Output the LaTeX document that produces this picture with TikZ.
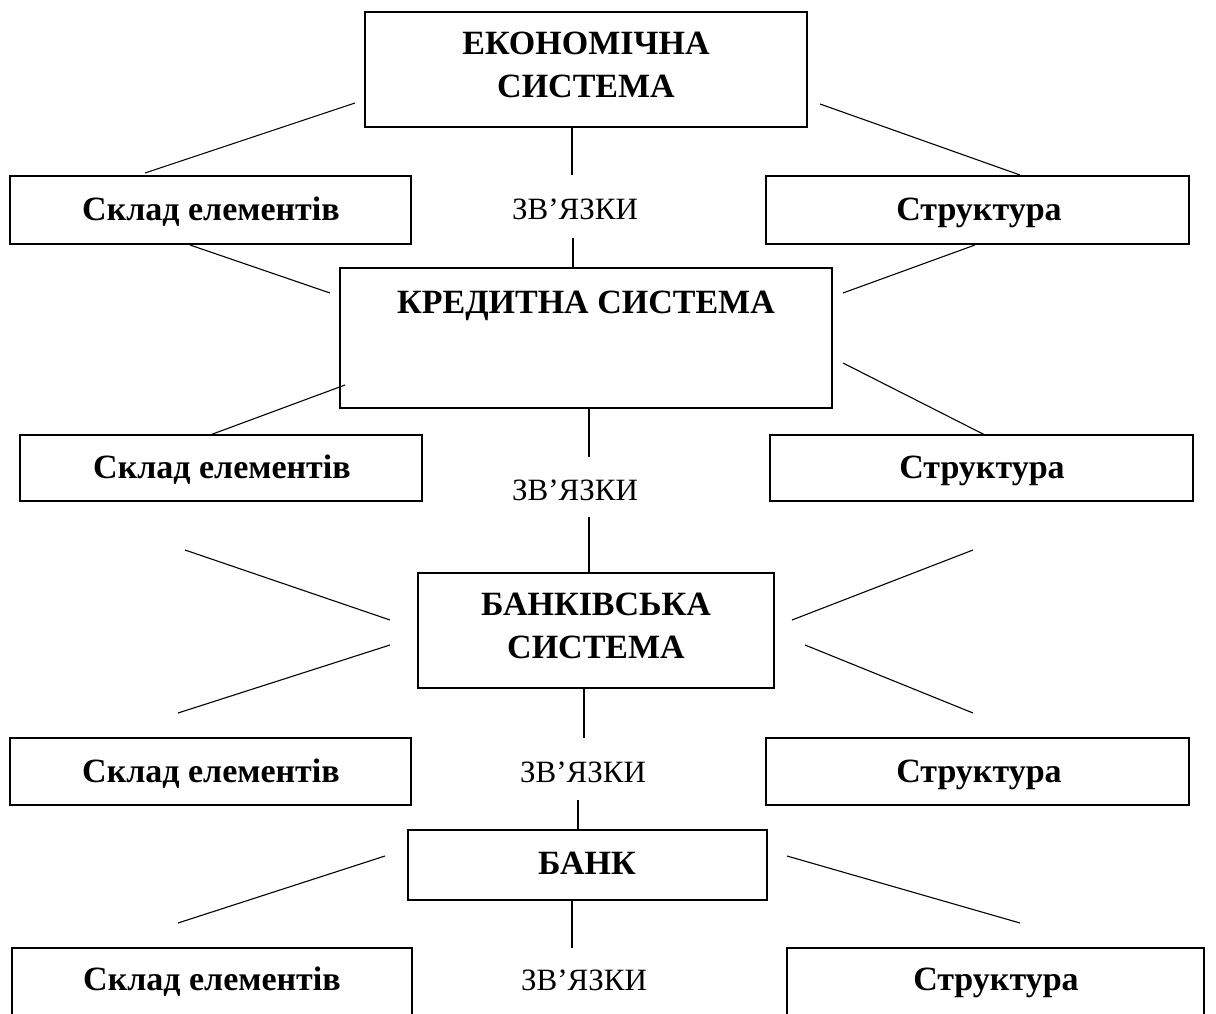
\documentclass[tikz,border=0pt]{standalone}
\usepackage{fontspec}
\setmainfont{Liberation Serif}
\begin{document}
\begin{tikzpicture}[x=1pt,y=-1pt,
  box/.style={draw, line width=1.6pt, inner sep=0pt},
  txt/.style={inner sep=0pt, anchor=base, font=\bfseries\fontsize{34}{43}\selectfont},
  mtxt/.style={inner sep=0pt, align=center, font=\bfseries\fontsize{34}{43}\selectfont},
  zv/.style={inner sep=0pt, anchor=base, font=\fontsize{31}{34}\selectfont},
  link/.style={line width=1.1pt},
  vlink/.style={line width=1.2pt}]
\useasboundingbox (0,0) rectangle (1216,1014);
\clip (0,0) rectangle (1216,1014);
\fill[white] (0,0) rectangle (1216,1014);

% level 1
\node[box, minimum width=442, minimum height=115] (eco) at (586,69.5) {};
\node[mtxt] (ecotxt) at (586,65.3) {ЕКОНОМІЧНА\\СИСТЕМА};
\node[box, minimum width=401, minimum height=68] (sk1) at (210.5,210) {};
\node[txt] (sk1txt) at (211,220) {Склад елементів};
\node[box, minimum width=423, minimum height=68] (st1) at (977.5,210) {};
\node[txt] (st1txt) at (979,220) {Структура};
\node[zv] (zv1) at (575,219) {ЗВ’ЯЗКИ};

% level 2
\node[box, minimum width=492, minimum height=140] (kred) at (586,338) {};
\node[txt] (kredtxt) at (586,313) {КРЕДИТНА СИСТЕМА};
\node[box, minimum width=402, minimum height=66] (sk2) at (221,468) {};
\node[txt] (sk2txt) at (222,478) {Склад елементів};
\node[box, minimum width=423, minimum height=66] (st2) at (981.5,468) {};
\node[txt] (st2txt) at (982,478) {Структура};
\node[zv] (zv2) at (575,500) {ЗВ’ЯЗКИ};

% level 3
\node[box, minimum width=356, minimum height=115] (bsys) at (596,630.5) {};
\node[mtxt] (bsystxt) at (596,626.3) {БАНКІВСЬКА\\СИСТЕМА};
\node[box, minimum width=401, minimum height=67] (sk3) at (210.5,771.5) {};
\node[txt] (sk3txt) at (211,782) {Склад елементів};
\node[box, minimum width=423, minimum height=67] (st3) at (977.5,771.5) {};
\node[txt] (st3txt) at (979,782) {Структура};
\node[zv] (zv3) at (583,782) {ЗВ’ЯЗКИ};

% level 4
\node[box, minimum width=359, minimum height=70] (bank) at (587.5,865) {};
\node[txt] (banktxt) at (587,874) {БАНК};
\node[box, minimum width=400, minimum height=120] (sk4) at (212,1008) {};
\node[txt] (sk4txt) at (212,990) {Склад елементів};
\node[box, minimum width=417, minimum height=120] (st4) at (995.5,1008) {};
\node[txt] (st4txt) at (996,990) {Структура};
\node[zv] (zv4) at (584,990) {ЗВ’ЯЗКИ};

% vertical links
\draw[vlink] (eco.south -| 572,0) -- (572,175) coordinate (v1);
\draw[vlink] (573,238) coordinate (v2) -- (kred.north -| 573,0);
\draw[vlink] (kred.south -| 589,0) -- (589,457) coordinate (v3);
\draw[vlink] (589,517) coordinate (v4) -- (bsys.north -| 589,0);
\draw[vlink] (bsys.south -| 584,0) -- (584,738) coordinate (v5);
\draw[vlink] (578,800) coordinate (v6) -- (bank.north -| 578,0);
\draw[vlink] (bank.south -| 572,0) -- (572,948) coordinate (v7);

% diagonal links
\coordinate (a1) at (355,103); \coordinate (b1) at (145,173);
\coordinate (a2) at (820,104); \coordinate (b2) at (1020,175);
\coordinate (a3) at (190,245); \coordinate (b3) at (330,293);
\coordinate (a4) at (975,245); \coordinate (b4) at (843,293);
\coordinate (a5) at (345,385); \coordinate (b5) at (210,435);
\coordinate (a6) at (843,363); \coordinate (b6) at (985,435);
\coordinate (a7) at (185,550); \coordinate (b7) at (390,620);
\coordinate (a8) at (390,645); \coordinate (b8) at (178,713);
\coordinate (a9) at (973,550); \coordinate (b9) at (792,620);
\coordinate (a10) at (805,645); \coordinate (b10) at (973,713);
\coordinate (a11) at (385,856); \coordinate (b11) at (178,923);
\coordinate (a12) at (787,856); \coordinate (b12) at (1020,923);
\foreach \i in {1,...,12} { \draw[link] (a\i) -- (b\i); }
\end{tikzpicture}
\end{document}
